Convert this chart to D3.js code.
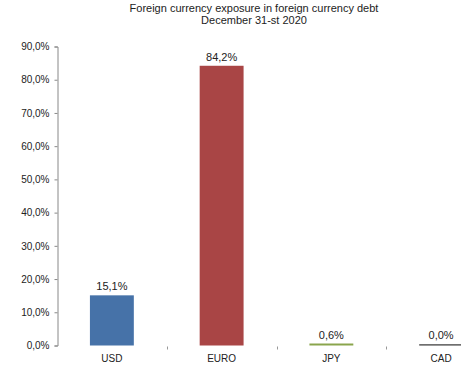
<!DOCTYPE html>
<html>
<head>
<meta charset="utf-8">
<script src="https://cdn.jsdelivr.net/npm/d3@7"></script>
<style>
  html, body { margin: 0; padding: 0; background: #fff; }
  svg { display: block; font-family: "Liberation Sans", Arial, sans-serif; }
</style>
</head>
<body>
<svg id="chart" width="461" height="369"></svg>
<script>
// Currency shares of foreign currency debt, in percent
const currencies = ["USD", "EURO", "JPY", "CAD"];
const shares = [15.1, 84.2, 0.6, 0.0];
const barColors = ["#4672a8", "#a94545", "#8aa54c", "#333333"];
const yTicks = [0, 10, 20, 30, 40, 50, 60, 70, 80, 90];
const titleLines = ["Foreign currency exposure in foreign currency debt", "December 31-st 2020"];

const svg = d3.select("#chart");
const fmt = v => v.toFixed(1).replace(".", ",") + "%";

const x = d3.scaleBand().domain(currencies).range([57, 496]).padding(0);
const y = d3.scaleLinear().domain([0, 90]).range([345.5, 46.5]);

// Title
svg.append("g").selectAll("text").data(titleLines).join("text")
  .attr("x", 254).attr("y", (d, i) => 12 + i * 12)
  .attr("text-anchor", "middle")
  .attr("font-size", 11).attr("fill", "#222")
  .text(d => d);

// Y axis
const yAxis = svg.append("g").attr("transform", "translate(57.5,0)")
  .call(d3.axisLeft(y).tickValues(yTicks).tickFormat(fmt).tickSize(3).tickPadding(5));
yAxis.select(".domain").attr("stroke", "#888");
yAxis.selectAll(".tick line").attr("stroke", "#888");
yAxis.selectAll(".tick text").attr("font-size", 10).attr("fill", "#222")
  .attr("font-family", "Liberation Sans, Arial, sans-serif");

// Category boundary ticks (no baseline drawn)
const bounds = currencies.slice(1).map(c => x(c));
svg.append("g").selectAll("line").data(bounds).join("line")
  .attr("x1", d => Math.round(d) + 0.5).attr("x2", d => Math.round(d) + 0.5)
  .attr("y1", y(0) + 1).attr("y2", y(0) + 4)
  .attr("stroke", "#999");

// Bars
const barW = x.bandwidth() * 0.4;
const rows = currencies.map((c, i) => ({ c, v: shares[i], color: barColors[i] }));
svg.append("g").selectAll("rect").data(rows).join("rect")
  .attr("x", d => x(d.c) + (x.bandwidth() - barW) / 2)
  .attr("width", barW)
  .attr("y", d => Math.min(y(d.v), y(0) - 1.2))
  .attr("height", d => Math.max(y(0) - y(d.v), 1.2))
  .attr("fill", d => d.color);

// Value labels
svg.append("g").selectAll("text").data(rows).join("text")
  .attr("x", d => x(d.c) + x.bandwidth() / 2)
  .attr("y", d => Math.min(y(d.v), y(0) - 1.2) - 5)
  .attr("text-anchor", "middle")
  .attr("font-size", 11).attr("fill", "#222")
  .text(d => fmt(d.v));

// Category labels
svg.append("g").selectAll("text").data(currencies).join("text")
  .attr("x", d => x(d) + x.bandwidth() / 2)
  .attr("y", 362)
  .attr("text-anchor", "middle")
  .attr("font-size", 10).attr("fill", "#222")
  .text(d => d);
</script>
</body>
</html>
